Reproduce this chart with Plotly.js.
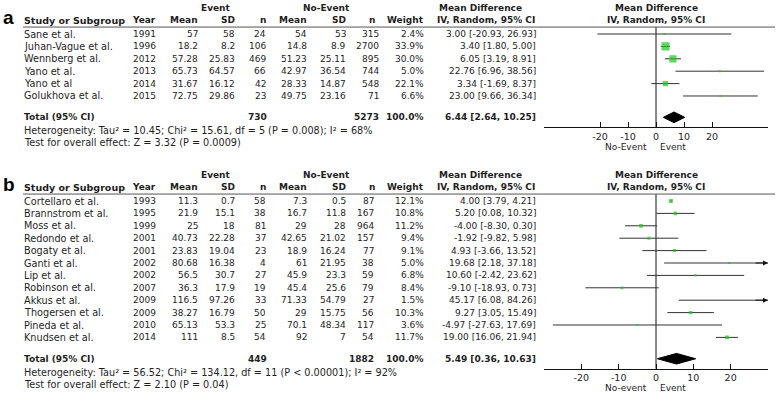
<!DOCTYPE html>
<html><head><meta charset="utf-8">
<script src="https://cdn.plot.ly/plotly-3.0.1.min.js"></script>
<style>html,body{margin:0;padding:0;background:#fff;}#chart{width:778px;height:401px;}</style>
</head><body><div id="chart"></div>
<script>
// ---------- Panel a data ----------
const aStudies = ["Sane et al.","Juhan-Vague et al.","Wennberg et al.","Yano et al.","Yano et al","Golukhova et al."];
const aYears   = [1991,1996,2012,2013,2014,2015];
const aEvMean  = [57,18.2,57.28,65.73,31.67,72.75];
const aEvSD    = [58,8.2,25.83,64.57,16.12,29.86];
const aEvN     = [24,106,469,66,42,23];
const aNoMean  = [54,14.8,51.23,42.97,28.33,49.75];
const aNoSD    = [53,8.9,25.11,36.54,14.87,23.16];
const aNoN     = [315,2700,895,744,548,71];
const aWeight  = [2.4,33.9,30.0,5.0,22.1,6.6];
const aMD      = [3.00,3.40,6.05,22.76,3.34,23.00];
const aLo      = [-20.93,1.80,3.19,6.96,-1.69,9.66];
const aHi      = [26.93,5.00,8.91,38.56,8.37,36.34];
const aTotalN  = [730,5273];
const aTotalMD = [6.44,2.64,10.25];
const aHet  = "Heterogeneity: Tau² = 10.45; Chi² = 15.61, df = 5 (P = 0.008); I² = 68%";
const aTest = "Test for overall effect: Z = 3.32 (P = 0.0009)";
const aTicks = [-20,-10,0,10,20];
const aTickText = ["-20","-10","0","10","20"];
const aSides = ["No-Event","Event"];

// ---------- Panel b data ----------
const bStudies = ["Cortellaro et al.","Brannstrom et al.","Moss et al.","Redondo et al.","Bogaty et al.","Ganti et al.","Lip et al.","Robinson et al.","Akkus et al.","Thogersen et al.","Pineda et al.","Knudsen et al."];
const bYears   = [1993,1995,1999,2001,2001,2002,2002,2007,2009,2009,2010,2014];
const bEvMean  = [11.3,21.9,25,40.73,23.83,80.68,56.5,36.3,116.5,38.27,65.13,111];
const bEvSD    = [0.7,15.1,18,22.28,19.04,16.38,30.7,17.9,97.26,16.79,53.3,8.5];
const bEvN     = [58,38,81,37,23,4,27,19,33,50,25,54];
const bNoMean  = [7.3,16.7,29,42.65,18.9,61,45.9,45.4,71.33,29,70.1,92];
const bNoSD    = [0.5,11.8,28,21.02,16.24,21.95,23.3,25.6,54.79,15.75,48.34,7];
const bNoN     = [87,167,964,157,77,38,59,79,27,56,117,54];
const bWeight  = [12.1,10.8,11.2,9.4,9.1,5.0,6.8,8.4,1.5,10.3,3.6,11.7];
const bMD      = [4.00,5.20,-4.00,-1.92,4.93,19.68,10.60,-9.10,45.17,9.27,-4.97,19.00];
const bLo      = [3.79,0.08,-8.30,-9.82,-3.66,2.18,-2.42,-18.93,6.08,3.05,-27.63,16.06];
const bHi      = [4.21,10.32,0.30,5.98,13.52,37.18,23.62,0.73,84.26,15.49,17.69,21.94];
const bTotalN  = [449,1882];
const bTotalMD = [5.49,0.36,10.63];
const bHet  = "Heterogeneity: Tau² = 56.52; Chi² = 134.12, df = 11 (P < 0.00001); I² = 92%";
const bTest = "Test for overall effect: Z = 2.10 (P = 0.04)";
const bTicks = [-20,-10,0,10,20];
const bTickText = ["-20","-10","0","10","20"];
const bSides = ["No-event","Event"];

// ---------- layout helpers ----------
const W = 778, H = 401, ROW = 12.4;
const FONT = "DejaVu Sans, Verdana, sans-serif";
const FS = 9;      // numbers and headers
const FSW = 9.7;   // study names and footnotes
const TXT = "#1e1e1e";
const GREEN = "#22c322";
const px = p => p / W;
const py = p => 1 - p / H;

const traces = [], annotations = [], shapes = [];
const layout = {
  width: W, height: H, margin: {l:0,r:0,t:0,b:0},
  paper_bgcolor: "#fff", plot_bgcolor: "#fff", showlegend: false,
  font: {family: FONT, size: FS, color: TXT}
};

function md2(v){ return v.toFixed(2); }
function ciText(m,l,h){ return md2(m) + " [" + md2(l) + ", " + md2(h) + "]"; }

function panel(p) {
  const n = p.studies.length;
  const totalRow = n - 1 + 1.72;
  const axisRow = totalRow + 0.8;
  const topRow = -0.56;
  const xa = p.xid === "" ? "xaxis" : "xaxis" + p.xid;
  const ya = p.xid === "" ? "yaxis" : "yaxis" + p.xid;
  const xr = "x" + p.xid, yr = "y" + p.xid;
  const rowPx = r => p.row0 + ROW * r;
  const rowY = r => py(rowPx(r));

  layout[xa] = {
    domain: [px(544), px(768)], range: p.range, anchor: yr,
    showgrid: false, zeroline: false, showline: true, linecolor: "#111", linewidth: 1,
    ticks: "inside", ticklen: 5, tickcolor: "#111", tickwidth: 1,
    tickmode: "array", tickvals: p.ticks, ticktext: p.tickText,
    tickfont: {family: FONT, size: 9.5, color: TXT}, fixedrange: true
  };
  layout[ya] = {
    domain: [rowY(axisRow), rowY(topRow)], range: [axisRow, topRow],
    anchor: xr, visible: false, fixedrange: true
  };

  const ann = (text, xPix, row, anchor, opts) => annotations.push(Object.assign({
    text: text, xref: "paper", yref: "paper", x: px(xPix), y: rowY(row),
    xanchor: anchor, yanchor: "middle", showarrow: false,
    font: {family: FONT, size: FS, color: TXT}
  }, opts || {}));
  const bold = {font: {family: FONT, size: FS, color: TXT, weight: "bold"}};
  const wide = {font: {family: FONT, size: FSW, color: TXT}};

  // panel letter
  ann(p.letter, 1, -1.3, "left", {font: {family: "Liberation Sans, Arial, sans-serif", size: 19, color: "#000", weight: "bold"}});
  // header row 1
  ann("Event", 216, -2.1, "center", bold);
  ann("No-Event", 326, -2.1, "center", bold);
  ann("Mean Difference", 481, -2.1, "center", bold);
  ann("Mean Difference", 656, -2.1, "center", bold);
  // header row 2
  ann("Study or Subgroup", 22, -1.12, "left", {font: {family: FONT, size: 9.5, color: TXT, weight: "bold"}});
  ann("Year", 158, -1.12, "right", bold);
  ann("Mean", 200, -1.12, "right", bold);
  ann("SD", 237, -1.12, "right", bold);
  ann("n", 268, -1.12, "right", bold);
  ann("Mean", 309, -1.12, "right", bold);
  ann("SD", 348, -1.12, "right", bold);
  ann("n", 377, -1.12, "right", bold);
  ann("Weight", 426, -1.12, "right", bold);
  ann("IV, Random, 95% CI", 486, -1.12, "center", bold);
  ann("IV, Random, 95% CI", 656, -1.12, "center", bold);
  // header rule
  shapes.push({type: "line", xref: "paper", yref: "paper", x0: px(23), x1: px(775), y0: rowY(topRow), y1: rowY(topRow),
               line: {color: "#555", width: 1}});

  // study rows
  for (let i = 0; i < n; i++) {
    ann(p.studies[i], 22, i, "left", wide);
    ann(String(p.years[i]), 158, i, "right");
    ann(String(p.evMean[i]), 200, i, "right");
    ann(String(p.evSD[i]), 237, i, "right");
    ann(String(p.evN[i]), 268, i, "right");
    ann(String(p.noMean[i]), 309, i, "right");
    ann(String(p.noSD[i]), 348, i, "right");
    ann(String(p.noN[i]), p.noNx, i, "right");
    ann(p.weight[i].toFixed(1) + "%", 426, i, "right");
    ann(ciText(p.md[i], p.lo[i], p.hi[i]), 538, i, "right");
    if (p.hi[i] > p.range[1]) {
      annotations.push({xref: xr, yref: yr, x: p.range[1], y: i, ax: -14, ay: 0,
        axref: "pixel", ayref: "pixel", text: "", showarrow: true, arrowhead: 2,
        arrowsize: 1, arrowwidth: 1, arrowcolor: "#111", standoff: 0});
    }
  }
  // total rows
  ann("Total (95% CI)", 22, totalRow, "left", bold);
  ann(String(p.totalN[0]), 269, totalRow, "right", bold);
  ann(String(p.totalN[1]), p.noNx, totalRow, "right", bold);
  ann("100.0%", 426, totalRow, "right", bold);
  ann(ciText(p.totalMD[0], p.totalMD[1], p.totalMD[2]), 538, totalRow, "right", bold);
  ann(p.het, 22, totalRow + 1.08, "left", wide);
  ann(p.test, 22, totalRow + 2.05, "left", wide);
  // side labels under axis
  annotations.push({text: p.sides[0], xref: xr, yref: "paper", x: 0, xshift: -7, y: rowY(axisRow + 1.6),
    xanchor: "right", yanchor: "middle", showarrow: false, font: {family: FONT, size: FS, color: TXT}});
  annotations.push({text: p.sides[1], xref: xr, yref: "paper", x: 0, xshift: 2, y: rowY(axisRow + 1.6),
    xanchor: "left", yanchor: "middle", showarrow: false, font: {family: FONT, size: FS, color: TXT}});

  // zero line
  shapes.push({type: "line", xref: xr, yref: yr + " domain", x0: 0, x1: 0, y0: 0, y1: 1,
               line: {color: "#111", width: 1}, layer: "below"});

  // study estimates with CIs
  traces.push({
    type: "scatter", mode: "markers", xaxis: xr, yaxis: yr,
    x: p.md, y: p.studies.map((s, i) => i),
    marker: {symbol: "square", color: GREEN, size: p.weight.map(w => Math.max(2.2, p.sizeK * w)), line: {width: 0}},
    error_x: {type: "data", symmetric: false,
              array: p.hi.map((h, i) => h - p.md[i]),
              arrayminus: p.lo.map((l, i) => p.md[i] - l),
              color: "#333", thickness: 1, width: 0},
    hoverinfo: "skip"
  });
  // pooled diamond
  const d = p.totalMD, hh = 0.43;
  traces.push({
    type: "scatter", mode: "lines", xaxis: xr, yaxis: yr,
    x: [d[1], d[0], d[2], d[0], d[1]],
    y: [totalRow, totalRow - hh, totalRow, totalRow + hh, totalRow],
    fill: "toself", fillcolor: "#000", line: {color: "#000", width: 1}, hoverinfo: "skip"
  });
}

panel({letter: "a", xid: "", row0: 34, range: [-40, 40], ticks: aTicks, tickText: aTickText,
  studies: aStudies, years: aYears, evMean: aEvMean, evSD: aEvSD, evN: aEvN,
  noMean: aNoMean, noSD: aNoSD, noN: aNoN, weight: aWeight, md: aMD, lo: aLo, hi: aHi,
  totalN: aTotalN, totalMD: aTotalMD, het: aHet, test: aTest, sides: aSides, noNx: 381, sizeK: 0.24});

panel({letter: "b", xid: "2", row0: 201, range: [-30, 30], ticks: bTicks, tickText: bTickText,
  studies: bStudies, years: bYears, evMean: bEvMean, evSD: bEvSD, evN: bEvN,
  noMean: bNoMean, noSD: bNoSD, noN: bNoN, weight: bWeight, md: bMD, lo: bLo, hi: bHi,
  totalN: bTotalN, totalMD: bTotalMD, het: bHet, test: bTest, sides: bSides, noNx: 376, sizeK: 0.33});

layout.annotations = annotations;
layout.shapes = shapes;
Plotly.newPlot("chart", traces, layout, {staticPlot: true, displayModeBar: false});
</script>
</body></html>
